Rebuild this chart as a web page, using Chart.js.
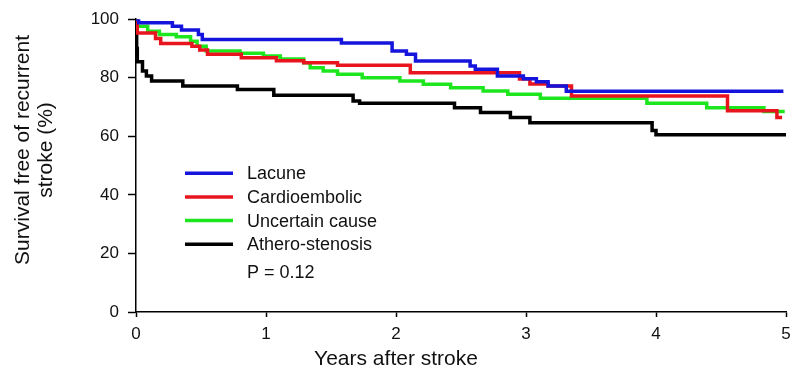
<!DOCTYPE html>
<html>
<head>
<meta charset="utf-8">
<title>Survival free of recurrent stroke</title>
<script src="https://cdn.jsdelivr.net/npm/chart.js@4/dist/chart.umd.min.js"></script>
<style>
    html, body { margin: 0; padding: 0; background: #fff; }
    canvas { display: block; }
</style>
</head>
<body>
<canvas id="survivalChart" width="790" height="372"></canvas>
<script>
// Kaplan-Meier steps (years, % free of recurrence)
const lacuneYears = [0, 0.02, 0.28, 0.35, 0.48, 0.51, 1.58, 1.97, 2.08, 2.15, 2.57, 2.61, 2.78, 2.98, 3.08, 3.17, 3.31, 4.98];
const lacuneSurvival = [100, 98.8, 97.6, 96.3, 94.8, 93.1, 91.9, 89.1, 88.0, 85.7, 84.0, 82.9, 80.6, 79.7, 78.6, 77.2, 75.4, 75.4];

const cardioYears = [0, 0.01, 0.15, 0.19, 0.43, 0.49, 0.55, 0.81, 1.08, 1.29, 1.55, 2.11, 2.95, 3.03, 3.17, 3.35, 4.55, 4.93, 4.97];
const cardioSurvival = [100, 95.3, 93.4, 91.7, 90.8, 89.5, 88.0, 86.8, 85.8, 85.1, 84.3, 81.7, 79.6, 77.9, 77.2, 73.8, 68.7, 66.4, 66.4];

const uncertainYears = [0, 0.01, 0.09, 0.18, 0.31, 0.42, 0.47, 0.54, 0.80, 0.98, 1.11, 1.29, 1.34, 1.44, 1.55, 1.74, 2.03, 2.21, 2.42, 2.67, 2.86, 3.11, 3.93, 4.39, 4.83, 4.99];
const uncertainSurvival = [100, 97.6, 95.9, 94.8, 94.0, 92.5, 90.8, 89.1, 88.4, 87.4, 86.4, 85.1, 83.4, 82.3, 81.2, 80.0, 78.9, 77.8, 76.6, 75.5, 74.4, 73.0, 71.3, 69.8, 68.5, 68.5];

const atheroYears = [0, 0.005, 0.01, 0.05, 0.08, 0.12, 0.36, 0.78, 1.06, 1.67, 1.72, 2.45, 2.65, 2.88, 3.03, 3.97, 4.0, 5.0];
const atheroSurvival = [100, 90.0, 85.5, 82.3, 80.6, 78.9, 77.2, 76.0, 74.0, 72.1, 71.3, 69.8, 68.1, 66.4, 64.6, 62.0, 60.5, 60.5];

const seriesLabels = ['Lacune', 'Cardioembolic', 'Uncertain cause', 'Athero-stenosis'];
const seriesColors = ['#1414dc', '#e8141e', '#1ee61e', '#000000'];

const xTickValues = [0, 1, 2, 3, 4, 5];
const yTickValues = [0, 20, 40, 60, 80, 100];
const pValueText = 'P = 0.12';
const xTitle = 'Years after stroke';
const yTitleLines = ['Survival free of recurrent', 'stroke (%)'];

const FONT = "'Liberation Sans', Arial, sans-serif";

function toPoints(years, values) {
    return years.map((t, i) => ({ x: t, y: values[i] }));
}

// Legend inside the plot, plus axis titles
const overlayPlugin = {
    id: 'overlay',
    afterDraw(chart) {
        const ctx = chart.ctx;
        const area = chart.chartArea;
        ctx.save();

        // legend
        const lineStart = area.left + 49;
        const lineEnd = area.left + 97;
        const textX = area.left + 111;
        let y = area.top + 154;
        ctx.font = '18px ' + FONT;
        ctx.textBaseline = 'middle';
        ctx.textAlign = 'left';
        chart.data.datasets.forEach(ds => {
            ctx.strokeStyle = ds.borderColor;
            ctx.lineWidth = 3.5;
            ctx.beginPath();
            ctx.moveTo(lineStart, y);
            ctx.lineTo(lineEnd, y);
            ctx.stroke();
            ctx.fillStyle = '#111';
            ctx.fillText(ds.label, textX, y + 1);
            y += 23.7;
        });
        ctx.fillText(pValueText, textX, y - 23.7 + 29);

        // x title
        ctx.font = '21px ' + FONT;
        ctx.textAlign = 'center';
        ctx.textBaseline = 'alphabetic';
        ctx.fillText(xTitle, 396, 365);

        // y title (two lines, rotated)
        ctx.font = '21px ' + FONT;
        ctx.translate(0, 150);
        ctx.rotate(-Math.PI / 2);
        ctx.textBaseline = 'middle';
        ctx.fillText(yTitleLines[0], 0, 23);
        ctx.fillText(yTitleLines[1], 0, 46);

        ctx.restore();
    }
};

function initSurvivalChart() {
    const ctx = document.getElementById('survivalChart');
    const years = [lacuneYears, cardioYears, uncertainYears, atheroYears];
    const values = [lacuneSurvival, cardioSurvival, uncertainSurvival, atheroSurvival];

    new Chart(ctx, {
        type: 'line',
        data: {
            datasets: seriesLabels.map((label, i) => ({
                label: label,
                data: toPoints(years[i], values[i]),
                borderColor: seriesColors[i],
                backgroundColor: seriesColors[i],
                borderWidth: 3.5,
                stepped: 'before',
                pointRadius: 0,
                fill: false
            }))
        },
        options: {
            responsive: false,
            animation: false,
            layout: {
                padding: { top: 18, right: 4, left: 0, bottom: 0 }
            },
            plugins: {
                legend: { display: false },
                tooltip: { enabled: false }
            },
            scales: {
                x: {
                    type: 'linear',
                    min: 0,
                    max: 5,
                    afterBuildTicks: s => { s.ticks = xTickValues.map(v => ({ value: v })); },
                    afterFit: s => {
                        s.height = 60;
                        s.paddingLeft = 0;
                        s.paddingRight = 0;
                    },
                    grid: {
                        drawOnChartArea: false,
                        drawTicks: true,
                        tickLength: 5,
                        tickWidth: 1.5,
                        color: '#000'
                    },
                    border: { display: true, color: '#000', width: 1.5 },
                    ticks: {
                        color: '#111',
                        padding: 7,
                        maxRotation: 0,
                        font: { family: FONT, size: 17 }
                    }
                },
                y: {
                    min: 0,
                    max: 100,
                    afterBuildTicks: s => { s.ticks = yTickValues.map(v => ({ value: v })); },
                    afterFit: s => { s.width = 136; },
                    grid: {
                        drawOnChartArea: false,
                        drawTicks: true,
                        tickLength: 8,
                        tickWidth: 1.5,
                        color: '#000'
                    },
                    border: { display: true, color: '#000', width: 1.5 },
                    ticks: {
                        color: '#111',
                        padding: 9,
                        font: { family: FONT, size: 17 }
                    }
                }
            }
        },
        plugins: [overlayPlugin]
    });
}

document.addEventListener('DOMContentLoaded', function () {
    initSurvivalChart();
});
</script>
</body>
</html>
